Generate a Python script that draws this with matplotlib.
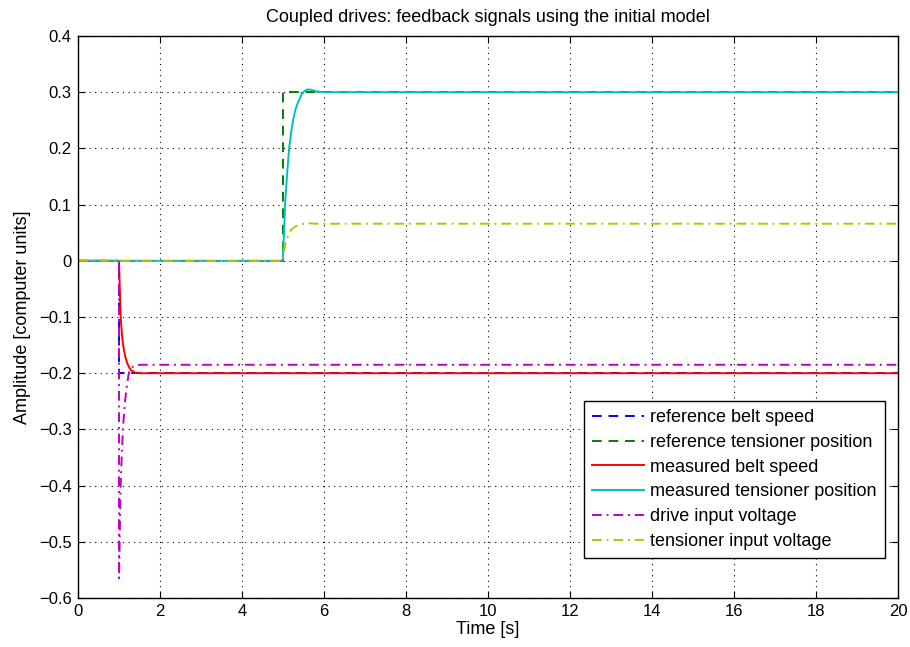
import matplotlib
matplotlib.use("Agg")
import matplotlib.pyplot as plt

plt.rcParams['font.family'] = ['Liberation Sans', 'DejaVu Sans']

# reference signals (steps)
ref_speed_t = [0, 1, 1, 20]
ref_speed_v = [0, 0, -0.2, -0.2]
ref_tens_t = [0, 5, 5, 20]
ref_tens_v = [0, 0, 0.3, 0.3]

# measured belt speed
meas_speed_t = [0, 1.0, 1.02, 1.04, 1.07, 1.1, 1.15, 1.2, 1.25, 1.3, 1.4, 1.5, 1.7, 20]
meas_speed_v = [0, 0, -0.05, -0.1, -0.13, -0.15, -0.17, -0.182, -0.19, -0.195, -0.199, -0.2, -0.2, -0.2]

# measured tensioner position
meas_tens_t = [0, 4.99, 5.02, 5.05, 5.1, 5.15, 5.2, 5.25, 5.3, 5.37, 5.45, 5.52, 5.6, 5.7, 5.85, 6.0, 6.2, 20]
meas_tens_v = [0, 0, 0.04, 0.1, 0.155, 0.2, 0.23, 0.252, 0.268, 0.283, 0.295, 0.302, 0.305, 0.304, 0.301, 0.3, 0.3, 0.3]

# drive input voltage
drive_u_t = [0, 1.0, 1.0, 1.01, 1.02, 1.04, 1.07, 1.1, 1.13, 1.16, 1.2, 1.24, 1.3, 1.4, 1.5, 20]
drive_u_v = [0, 0, -0.565, -0.53, -0.48, -0.4, -0.34, -0.295, -0.265, -0.242, -0.218, -0.2, -0.19, -0.186, -0.185, -0.185]

# tensioner input voltage
tens_u_t = [0, 5.0, 5.02, 5.05, 5.1, 5.15, 5.21, 5.3, 5.4, 5.58, 5.8, 6.0, 20]
tens_u_v = [0, 0, 0.012, 0.028, 0.04, 0.049, 0.056, 0.061, 0.064, 0.067, 0.066, 0.066, 0.066]

labels = ['reference belt speed', 'reference tensioner position', 'measured belt speed',
          'measured tensioner position', 'drive input voltage', 'tensioner input voltage']

fig = plt.figure(figsize=(9.1, 6.47), dpi=100)
ax = fig.add_axes([78 / 910, 1 - 598 / 647, 820 / 910, 562 / 647])

dash = (0, (5, 3.5))
dashdot = (0, (5, 2.5, 1, 2.5))
lw = 1.4
ax.plot(ref_speed_t, ref_speed_v, color=(0, 0, 1), ls=dash, lw=lw, label=labels[0])
ax.plot(ref_tens_t, ref_tens_v, color=(0, 0.5, 0), ls=dash, lw=lw, label=labels[1])
ax.plot(meas_speed_t, meas_speed_v, color=(1, 0, 0), ls='-', lw=lw, label=labels[2])
ax.plot(meas_tens_t, meas_tens_v, color=(0, 0.75, 0.75), ls='-', lw=lw, label=labels[3])
ax.plot(drive_u_t, drive_u_v, color=(0.75, 0, 0.75), ls=dashdot, lw=lw, label=labels[4])
ax.plot(tens_u_t, tens_u_v, color=(0.75, 0.75, 0), ls=dashdot, lw=lw, label=labels[5])

ax.set_xlim(0, 20)
ax.set_ylim(-0.6, 0.4)
ax.set_xticks(range(0, 21, 2))
ax.set_yticks([i / 10 for i in range(-6, 5)])
ax.set_yticklabels(['\u22120.6', '\u22120.5', '\u22120.4', '\u22120.3', '\u22120.2', '\u22120.1',
                    '0', '0.1', '0.2', '0.3', '0.4'])
ax.tick_params(direction='in', top=True, right=True, labelsize=12, length=5, pad=4.5)
ax.grid(True, color='black', ls=(0, (1, 4)), lw=0.8)
for s in ax.spines.values():
    s.set_linewidth(1.0)

ax.set_xlabel('Time [s]', fontsize=13, labelpad=1)
ax.set_ylabel('Amplitude [computer units]', fontsize=13, labelpad=6)
ax.set_title('Coupled drives: feedback signals using the initial model', fontsize=13, pad=10)

leg = ax.legend(loc='lower right', bbox_to_anchor=(0.984, 0.071), fontsize=13, fancybox=False,
                framealpha=1, edgecolor='black', handlelength=2.9, borderaxespad=0,
                labelspacing=0.43, handletextpad=0.33, borderpad=0.45)
leg.get_frame().set_linewidth(1.0)

fig.savefig('out.png', dpi=100)
